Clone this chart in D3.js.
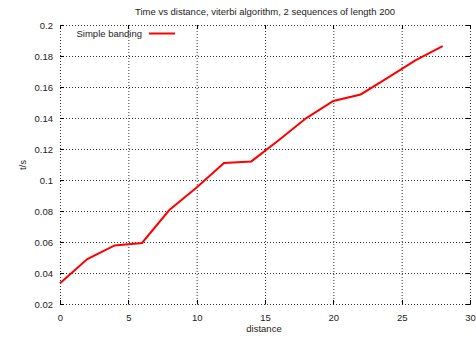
<!DOCTYPE html>
<html><head><meta charset="utf-8">
<script src="https://cdn.jsdelivr.net/npm/d3@7"></script>
<style>
html,body{margin:0;padding:0;background:#fff;}
text{font-family:"Liberation Sans",Arial,sans-serif;fill:#222;}
</style></head>
<body><svg id="c" width="476" height="338"></svg>
<script>
const distance = [0,2,4,6,8,10,12,14,16,18,20,22,24,26,28];
const timeSimpleBanding = [0.0334,0.0490,0.0578,0.0594,0.0806,0.0952,0.1110,0.1120,0.1257,0.1398,0.1510,0.1552,0.1660,0.1772,0.1864];
const xTicks = [0,5,10,15,20,25,30];
const yTicks = [0.02,0.04,0.06,0.08,0.1,0.12,0.14,0.16,0.18,0.2];
const seriesName = "Simple banding";
const title = "Time vs distance, viterbi algorithm, 2 sequences of length 200";

const svg = d3.select("#c");
const L=60,R=470,T=25,B=304;
const x = d3.scaleLinear().domain([0,30]).range([L,R]);
const y = d3.scaleLinear().domain([0.02,0.2]).range([B,T]);

// grid (dotted)
const g = svg.append("g");
g.selectAll(".gx").data(xTicks).enter().append("line")
  .attr("x1",d=>x(d)+0.5).attr("x2",d=>x(d)+0.5).attr("y1",T).attr("y2",B)
  .attr("stroke","#333").attr("stroke-width",1).attr("stroke-dasharray","1,2");
g.selectAll(".gy").data(yTicks).enter().append("line")
  .attr("y1",d=>Math.round(y(d))+0.5).attr("y2",d=>Math.round(y(d))+0.5).attr("x1",L).attr("x2",R)
  .attr("stroke","#333").attr("stroke-width",1).attr("stroke-dasharray","1,2");

// tick marks (solid, inward) on all sides
const tk=4;
yTicks.forEach(v=>{
  const yy=Math.round(y(v))+0.5;
  g.append("line").attr("x1",L).attr("x2",L+tk).attr("y1",yy).attr("y2",yy).attr("stroke","#000");
  g.append("line").attr("x1",R-tk).attr("x2",R+0.5).attr("y1",yy).attr("y2",yy).attr("stroke","#000");
});
xTicks.forEach(v=>{
  const xx=Math.round(x(v))+0.5;
  g.append("line").attr("x1",xx).attr("x2",xx).attr("y1",B+0.5).attr("y2",B-tk).attr("stroke","#000");
  g.append("line").attr("x1",xx).attr("x2",xx).attr("y1",T).attr("y2",T+tk).attr("stroke","#000");
});

// axes labels via d3 axes (lines hidden)
const xa = svg.append("g").attr("transform",`translate(0,${B})`)
  .call(d3.axisBottom(x).tickValues(xTicks).tickSize(0).tickPadding(10).tickFormat(d3.format("d")));
xa.select(".domain").remove();
xa.selectAll("text").attr("font-size",9.5).attr("fill","#222").style("font-family","Liberation Sans, Arial, sans-serif");
const ya = svg.append("g").attr("transform",`translate(${L},0)`)
  .call(d3.axisLeft(y).tickValues(yTicks).tickSize(0).tickPadding(7).tickFormat(d=>String(+d.toFixed(2))));
ya.select(".domain").remove();
ya.selectAll("text").attr("font-size",9.5).attr("fill","#222").style("font-family","Liberation Sans, Arial, sans-serif");

// line
const line = d3.line().x((d,i)=>x(distance[i])).y(d=>y(d));
svg.append("path").datum(timeSimpleBanding).attr("d",line)
  .attr("fill","none").attr("stroke","#ff0000").attr("stroke-width",2);

// legend
svg.append("text").attr("x",142).attr("y",36.5).attr("text-anchor","end").attr("font-size",9.5).text(seriesName);
svg.append("line").attr("x1",149).attr("x2",175).attr("y1",33.5).attr("y2",33.5).attr("stroke","#ff0000").attr("stroke-width",2);

// title & labels
svg.append("text").attr("x",265).attr("y",14.5).attr("text-anchor","middle").attr("font-size",9.5).text(title);
svg.append("text").attr("x",264).attr("y",331.5).attr("text-anchor","middle").attr("font-size",9.5).text("distance");
svg.append("text").attr("transform","translate(26,165) rotate(-90)").attr("text-anchor","middle").attr("font-size",9.5).text("t/s");
</script></body></html>
